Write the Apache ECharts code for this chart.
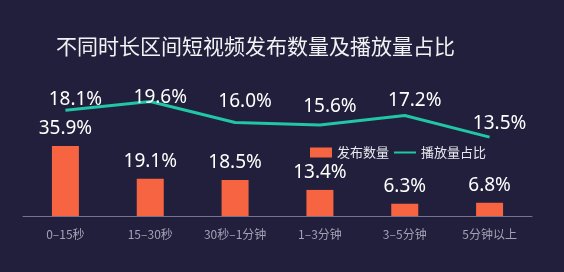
<!DOCTYPE html>
<html><head><meta charset="utf-8">
<script src="https://cdn.jsdelivr.net/npm/echarts@6/dist/echarts.min.js"></script>
<style>html,body{margin:0;padding:0;background:#211f3b;}#c{width:564px;height:272px;}</style>
</head><body><div id="c"></div>
<script>
const categories = ['0–15秒','15–30秒','30秒–1分钟','1–3分钟','3–5分钟','5分钟以上'];
const publishShare = [35.9, 19.1, 18.5, 13.4, 6.3, 6.8];
const playShare = [18.1, 19.6, 16.0, 15.6, 17.2, 13.5];
const lineLabelLift = [12, 5, 22, 20, 16, 15];

const chart = echarts.init(document.getElementById('c'));
chart.setOption({
  backgroundColor: '#211f3b',
  animation: false,
  title: {
    text: '不同时长区间短视频发布数量及播放量占比',
    left: 51, top: 31,
    textStyle: {color: '#f2f2f5', fontSize: 21, fontWeight: 'normal', fontFamily: 'Noto Sans CJK SC'}
  },
  legend: {
    left: 305, top: 141,
    itemWidth: 22, itemHeight: 10, itemGap: 4,
    textStyle: {color: '#e8e8ee', fontSize: 13, fontFamily: 'Noto Sans CJK SC'},
    data: [{name: '发布数量', icon: 'rect'}, {name: '播放量占比', itemStyle: {opacity: 0}}]
  },
  grid: {left: 23, right: 32, top: 70, bottom: 56},
  xAxis: {
    type: 'category', data: categories,
    axisLine: {lineStyle: {color: '#77738f', width: 1}},
    axisTick: {show: false},
    axisLabel: {color: '#a3a1b6', fontSize: 12, margin: 12, fontFamily: 'Noto Sans CJK SC'}
  },
  yAxis: [
    {type: 'value', min: 0, max: 75, show: false, splitLine: {show: false}},
    {type: 'value', min: 0, max: 25, show: false, splitLine: {show: false}}
  ],
  series: [
    {
      name: '发布数量', type: 'bar', data: publishShare, barWidth: 27,
      itemStyle: {color: '#f76442'},
      label: {show: true, position: 'top', distance: 8, color: '#ffffff', fontSize: 19,
        fontFamily: 'Noto Sans', formatter: p => p.value.toFixed(1) + '%'}
    },
    {
      name: '播放量占比', type: 'line', yAxisIndex: 1, symbol: 'circle', symbolSize: 0,
      lineStyle: {color: '#20c6a5', width: 3},
      itemStyle: {color: '#20c6a5'},
      data: playShare.map((v, i) => ({
        value: v,
        label: {show: true, position: 'top', distance: 0, offset: [10, 11 - lineLabelLift[i]]}
      })),
      label: {show: true, color: '#ffffff', fontSize: 19, fontFamily: 'Noto Sans',
        formatter: p => p.value.toFixed(1) + '%'}
    }
  ]
});
</script></body></html>
